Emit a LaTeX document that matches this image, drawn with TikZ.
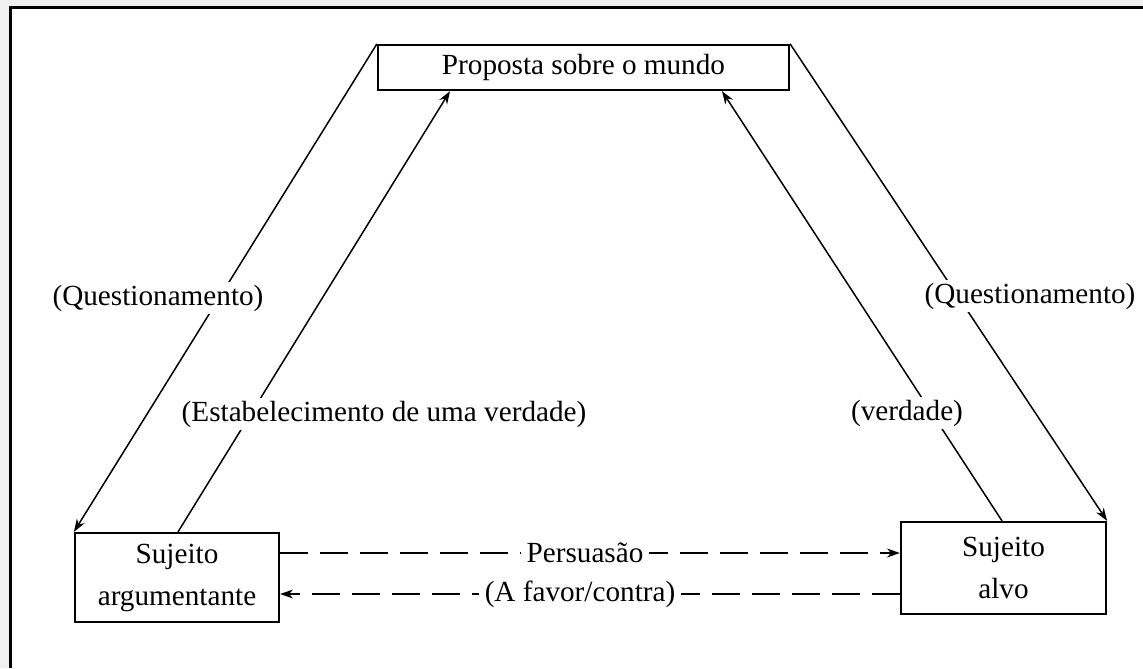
\documentclass[tikz,border=0pt]{standalone}
\usepackage{fontspec}
\setmainfont{Liberation Serif}
\usetikzlibrary{arrows.meta}
\begin{document}
\begin{tikzpicture}[x=0.5pt,y=-0.5pt,
  box/.style={draw,line width=1.1pt,minimum width=#1,inner sep=0pt,fill=white},
  conn/.style={line width=0.75pt,-{Stealth[length=6.5pt,width=4.5pt]}},
  dconn/.style={conn,dash pattern=on 14pt off 6pt},
  lab/.style={fill=white,inner sep=1.5pt},
  every node/.style={font=\fontsize{14.6}{17}\selectfont}]
\useasboundingbox (0,0) rectangle (1143,668);
\fill[gray!12] (0,0) rectangle (1143,668);
\fill[white] (10,8) rectangle (1143,668);
\draw[line width=1.5pt] (10,668) -- (10,8) -- (1143,8);
% boxes
\node[box=205.5pt,minimum height=22.5pt] (top) at (583.5,67.5) {Proposta sobre o mundo};
\node[box=102pt,minimum height=44.5pt,align=center] (arg) at (177,577.5) {Sujeito\\[4pt]argumentante};
\node[box=102.5pt,minimum height=46pt,align=center] (alvo) at (1003.5,568) {Sujeito\\[4pt]alvo};
% connectors
\draw[conn] (top.north west) -- (arg.north west);
\draw[conn] (arg.north -| 178,0) -- (top.south -| 450,0);
\draw[conn] (top.north east) -- (alvo.north east);
\draw[conn] (alvo.north -| 1002,0) -- (top.south -| 722,0);
\draw[dconn] (arg.east |- 0,553) -- (alvo.west |- 0,553);
\draw[dconn] (alvo.west |- 0,594) -- (arg.east |- 0,594);
% labels
\node[lab] (q1) at (158,298) {(Questionamento)};
\node[lab] (q2) at (1030,296) {(Questionamento)};
\node[lab] (est) at (384,414) {(Estabelecimento de uma verdade)};
\node[lab] (ver) at (907,413) {(verdade)};
\node[lab,inner xsep=3pt] (per) at (585,553) {Persuasão};
\node[lab,inner xsep=3pt] (fav) at (580,594) {(A favor/contra)};
\end{tikzpicture}
\end{document}
